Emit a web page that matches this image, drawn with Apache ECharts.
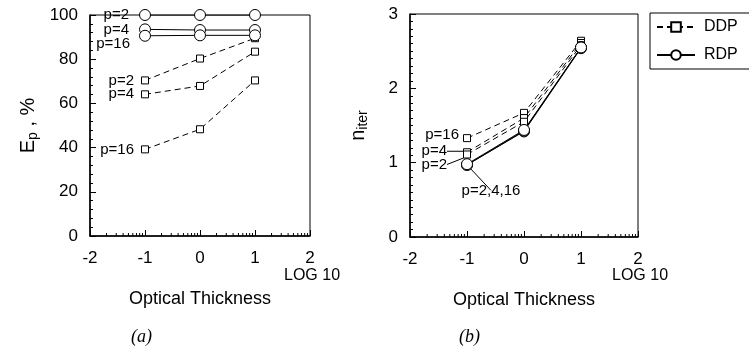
<!DOCTYPE html>
<html>
<head>
<meta charset="utf-8">
<script src="https://cdn.jsdelivr.net/npm/echarts@6/dist/echarts.min.js"></script>
<style>
  html, body { margin: 0; padding: 0; background: #fff; }
  #chart { width: 749px; height: 356px; }
</style>
</head>
<body>
<div id="chart"></div>
<script>
// log10 of optical thickness
const xVals = [-1, 0, 1];

// (a) efficiency E_p, %
const epDdpP2 = [70.4, 80.3, 89.5];
const epDdpP4 = [64.1, 67.9, 83.4];
const epDdpP16 = [39.2, 48.3, 70.4];
const epRdpP2 = [100, 100, 100];
const epRdpP4 = [93.5, 93.2, 93.2];
const epRdpP16 = [90.6, 90.8, 90.8];

// (b) iterations n_iter
const niterDdpP2 = [1.11, 1.55, 2.58];
const niterDdpP4 = [1.14, 1.60, 2.61];
const niterDdpP16 = [1.33, 1.67, 2.64];
const niterRdpP2 = [0.97, 1.42, 2.54];
const niterRdpP4 = [0.97, 1.43, 2.55];
const niterRdpP16 = [0.98, 1.44, 2.55];

const decades = [-2, -1, 0, 1];
const logMinor = [2, 3, 4, 5, 6, 7, 8, 9];

const FONT = "Liberation Sans";
const chart = echarts.init(document.getElementById("chart"));

function pts(ys) {
  return xVals.map((x, i) => [x, ys[i]]);
}

const leader = { labelLine: { show: true, lineStyle: { color: "#000", width: 1 } } };

// attach a label to the first point of a line
function firstLabel(ys, text, label, extra) {
  const d = pts(ys);
  d[0] = Object.assign({ value: d[0], label: Object.assign({ show: true, formatter: text, color: "#000", fontFamily: FONT, fontSize: 15 }, label) }, extra || {});
  return d;
}

function line(name, gi, data, dashed, more) {
  return Object.assign({
    name: name,
    type: "line",
    xAxisIndex: gi,
    yAxisIndex: gi,
    data: data,
    symbol: dashed ? "rect" : "circle",
    symbolSize: dashed ? 7 : 11,
    color: "#000",
    itemStyle: { color: "#fff", borderColor: "#000", borderWidth: 1 },
    lineStyle: { color: "#000", width: 1, type: dashed ? [6, 4] : "solid" },
    emphasis: { disabled: true },
    z: dashed ? 4 : 5
  }, more || {});
}

const minorData = [];
decades.forEach(d => logMinor.forEach(k => minorData.push([d + Math.log10(k)])));

function minorTicks(gi, ymin) {
  return {
    type: "custom",
    xAxisIndex: gi,
    yAxisIndex: gi,
    data: minorData,
    silent: true,
    z: 6,
    renderItem: function (params, api) {
      const p = api.coord([api.value(0), ymin]);
      return { type: "line", shape: { x1: p[0], y1: p[1], x2: p[0], y2: p[1] - 3 }, style: { stroke: "#000", lineWidth: 1 } };
    }
  };
}

function xAxis(gi) {
  return {
    gridIndex: gi,
    type: "value",
    min: -2, max: 2, interval: 1,
    axisLine: { onZero: false, lineStyle: { color: "#000", width: 1.5 } },
    axisTick: { inside: true, length: 6, lineStyle: { color: "#000" } },
    axisLabel: { color: "#000", fontFamily: FONT, fontSize: 17, margin: 14 },
    splitLine: { show: false },
    name: "Optical Thickness",
    nameLocation: "middle",
    nameGap: 54,
    nameTextStyle: { color: "#000", fontFamily: FONT, fontSize: 18 }
  };
}

function yAxis(gi, max, interval, split, name) {
  return {
    gridIndex: gi,
    type: "value",
    min: 0, max: max, interval: interval,
    axisLine: { show: true, onZero: false, lineStyle: { color: "#000", width: 1.5 } },
    axisTick: { inside: true, length: 6, lineStyle: { color: "#000" } },
    minorTick: { show: true, splitNumber: split, length: 3, lineStyle: { color: "#000" } },
    axisLabel: { color: "#000", fontFamily: FONT, fontSize: 17, margin: 12 },
    splitLine: { show: false },
    name: name,
    nameLocation: "middle",
    nameGap: gi === 0 ? 50 : 40,
    nameTextStyle: {
      color: "#000", fontFamily: FONT, fontSize: 20,
      rich: {
        a: { fontFamily: FONT, fontSize: 20, color: "#000" },
        s: { fontFamily: FONT, fontSize: 14, color: "#000", padding: [10, 0, 0, 0] }
      }
    }
  };
}

const option = {
  animation: false,
  backgroundColor: "#fff",
  grid: [
    { left: 90, right: 439, top: 15, bottom: 120, show: true, borderColor: "#000", borderWidth: 1 },
    { left: 410, right: 111, top: 14, bottom: 119, show: true, borderColor: "#000", borderWidth: 1 }
  ],
  xAxis: [xAxis(0), xAxis(1)],
  yAxis: [
    yAxis(0, 100, 20, 5, "{a|E}{s|p}{a| , %}"),
    yAxis(1, 3, 1, 10, "{a|n}{s|iter}")
  ],
  legend: {
    data: ["DDP", "RDP"],
    orient: "vertical",
    left: 650,
    top: 13,
    width: 96,
    padding: [6, 14, 6, 6],
    itemGap: 12,
    itemWidth: 38,
    itemHeight: 12,
    borderColor: "#000",
    borderWidth: 1,
    textStyle: { color: "#000", fontFamily: FONT, fontSize: 16, padding: [0, 0, 0, 4] }
  },
  graphic: [
    { type: "text", left: 284, top: 268, style: { text: "LOG 10", fill: "#000", font: "16px " + FONT } },
    { type: "text", left: 612, top: 268, style: { text: "LOG 10", fill: "#000", font: "16px " + FONT } },
    { type: "text", left: 131, top: 328, style: { text: "(a)", fill: "#000", font: "italic 18px 'Liberation Serif'" } },
    { type: "text", left: 459, top: 328, style: { text: "(b)", fill: "#000", font: "italic 18px 'Liberation Serif'" } }
  ],
  series: [
    // (a)
    line("RDP", 0, firstLabel(epRdpP2, "p=2", { position: "left", distance: 10 }), false),
    line("RDP", 0, firstLabel(epRdpP4, "p=4", { position: "left", distance: 10 }), false),
    line("RDP", 0, firstLabel(epRdpP16, "p=16", { position: "left", distance: 8, offset: [-1, 8] }), false),
    line("DDP", 0, firstLabel(epDdpP2, "p=2", { position: "left", distance: 7 }), true),
    line("DDP", 0, firstLabel(epDdpP4, "p=4", { position: "left", distance: 7 }), true),
    line("DDP", 0, firstLabel(epDdpP16, "p=16", { position: "left", distance: 7 }), true),
    minorTicks(0, 0),
    // (b)
    line("DDP", 1, firstLabel(niterDdpP16, "p=16", { position: "left", distance: 4, offset: [0, -3] }), true),
    line("DDP", 1, firstLabel(niterDdpP4, "p=4", { position: "left", distance: 4 }, leader), true, { labelLayout: { dx: -12, dy: -1 } }),
    line("DDP", 1, firstLabel(niterDdpP2, "p=2", { position: "left", distance: 4 }, leader), true, { labelLayout: { dx: -12, dy: 10 } }),
    line("RDP", 1, firstLabel(niterRdpP2, "p=2,4,16", { position: "bottom", distance: 10, offset: [24, 2] }, leader), false),
    line("RDP", 1, pts(niterRdpP4), false),
    line("RDP", 1, pts(niterRdpP16), false),
    minorTicks(1, 0)
  ]
};

chart.setOption(option);
</script>
</body>
</html>
